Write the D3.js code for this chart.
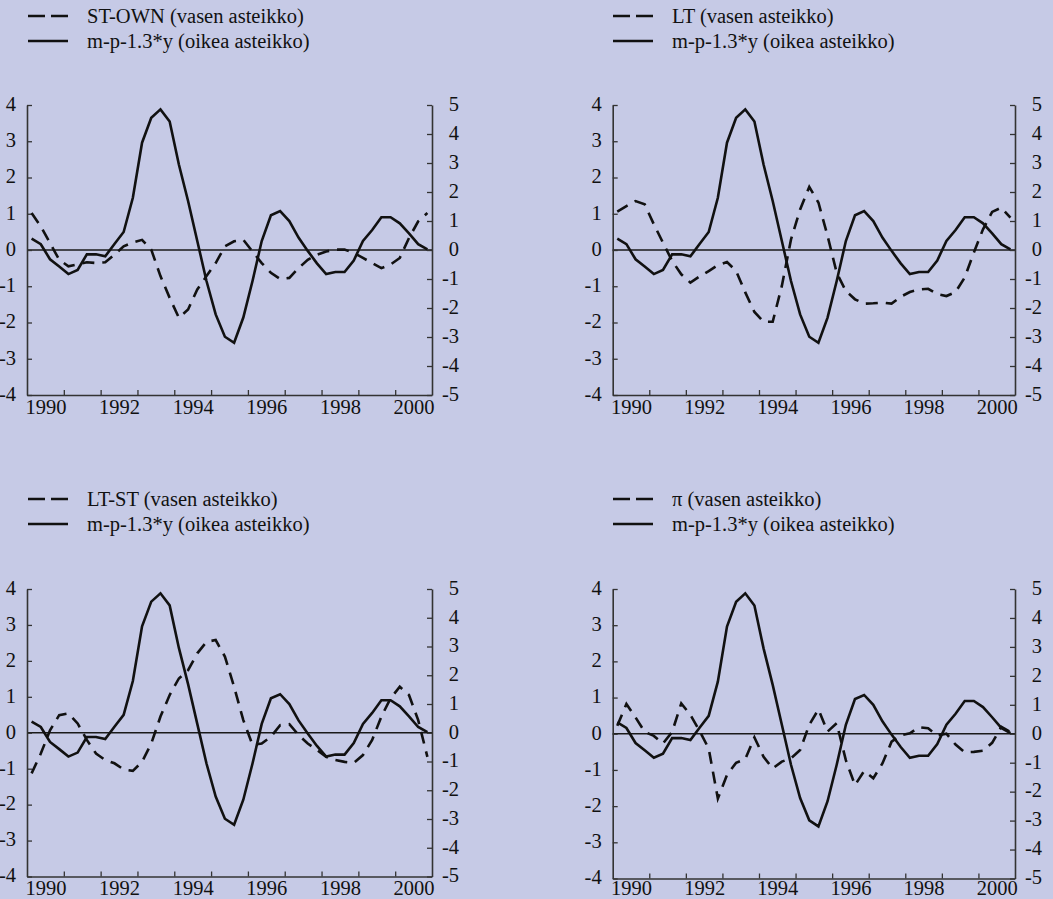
<!DOCTYPE html>
<html>
<head>
<meta charset="utf-8">
<script src="https://cdn.jsdelivr.net/npm/d3@7/dist/d3.min.js"></script>
<style>
  html, body { margin: 0; padding: 0; background: #c6cae6; }
  svg { display: block; }
  text { font-family: "Liberation Serif", "Times New Roman", serif; fill: #111; }
</style>
</head>
<body>
<svg id="chart" width="1053" height="899"></svg>
<script>
// Quarterly observations 1990Q1 – 2000Q4
const years = [1990, 1991, 1992, 1993, 1994, 1995, 1996, 1997, 1998, 1999, 2000];
const quarters = years.flatMap(y => [1, 2, 3, 4].map(q => ({ year: y, q })));

// Tick labels on the time axis (even years) and on the two value axes
const yearLabels = [1990, 1992, 1994, 1996, 1998, 2000];
const leftTicks = [-4, -3, -2, -1, 0, 1, 2, 3, 4];
const rightTicks = [-5, -4, -3, -2, -1, 0, 1, 2, 3, 4, 5];

// m-p-1.3*y (right scale), common to all four panels
const mp13y = [0.39, 0.20, -0.32, -0.57, -0.83, -0.69, -0.15, -0.15, -0.22, 0.21, 0.62, 1.80,
  3.70, 4.56, 4.85, 4.43, 2.95, 1.69, 0.31, -1.07, -2.22, -2.99, -3.20, -2.33,
  -1.07, 0.31, 1.20, 1.34, 1.00, 0.43, -0.03, -0.46, -0.83, -0.76, -0.76, -0.36,
  0.31, 0.69, 1.13, 1.13, 0.92, 0.57, 0.20, 0.02];

// Interest-rate and inflation series (left scale)
const stOwn = [1.02, 0.65, 0.19, -0.27, -0.45, -0.40, -0.34, -0.36, -0.34, -0.13, 0.10, 0.21,
  0.28, 0.01, -0.72, -1.32, -1.87, -1.64, -1.09, -0.72, -0.36, 0.10, 0.24, 0.28,
  -0.04, -0.36, -0.63, -0.80, -0.77, -0.50, -0.27, -0.13, -0.04, 0.01, 0.01, -0.08,
  -0.22, -0.36, -0.50, -0.40, -0.22, 0.33, 0.79, 1.02];

const lt = [1.06, 1.21, 1.35, 1.26, 0.71, 0.20, -0.30, -0.67, -0.90, -0.73, -0.58, -0.42,
  -0.33, -0.58, -1.17, -1.71, -1.98, -1.98, -0.99, 0.29, 1.12, 1.74, 1.31, 0.39,
  -0.63, -1.13, -1.36, -1.48, -1.47, -1.45, -1.48, -1.29, -1.16, -1.09, -1.07, -1.22,
  -1.27, -1.16, -0.76, -0.07, 0.57, 1.05, 1.17, 0.89];

const ltSt = [-1.13, -0.58, 0.07, 0.49, 0.54, 0.26, -0.20, -0.58, -0.76, -0.85, -1.02, -1.06,
  -0.81, -0.30, 0.45, 1.05, 1.51, 1.74, 2.21, 2.53, 2.58, 2.12, 1.28, 0.35,
  -0.34, -0.30, -0.11, 0.21, 0.24, -0.06, -0.30, -0.48, -0.67, -0.76, -0.81, -0.84,
  -0.62, -0.20, 0.45, 0.96, 1.28, 1.05, 0.35, -0.67];

const inflation = [0.22, 0.82, 0.45, 0.05, -0.06, -0.27, 0.05, 0.84, 0.52, 0.08, -0.41, -1.79,
  -1.14, -0.80, -0.70, -0.10, -0.64, -0.96, -0.77, -0.68, -0.45, 0.25, 0.67, 0.06,
  0.29, -0.73, -1.42, -1.03, -1.23, -0.82, -0.22, -0.04, 0.01, 0.18, 0.15, -0.05,
  0.00, -0.30, -0.51, -0.50, -0.47, -0.25, 0.19, 0.05];

const dashedNames = ["ST-OWN", "LT", "LT-ST", "\u03c0"];
const dashedSeries = [stOwn, lt, ltSt, inflation];
const scaleNote = { left: "(vasen asteikko)", right: "(oikea asteikko)" };
const solidName = "m-p-1.3*y";

// Panel frames (plot area edges in px)
const frames = [
  { left: 27,    right: 432,  top: 105, bottom: 395,   labelGap: 18.5, legendX: 28,  legendY: 16 },
  { left: 612.7, right: 1015, top: 105, bottom: 395,   labelGap: 18.5, legendX: 613, legendY: 16 },
  { left: 27,    right: 432,  top: 589, bottom: 876.5, labelGap: 18,   legendX: 28,  legendY: 499 },
  { left: 612.7, right: 1015, top: 589, bottom: 878.5, labelGap: 16,   legendX: 613, legendY: 499 }
];

const FONT = 20.5;
const INK = "#111";
const AXIS = "#333";
const DASH = "12,8";

const svg = d3.select("#chart");
svg.append("rect").attr("width", 1053).attr("height", 899).attr("fill", "#c6cae6");

const tPos = d => d.year + (d.q - 1) / 4 + 0.125;

function styleAxis(g) {
  g.selectAll("path.domain").attr("stroke", AXIS).attr("stroke-width", 1.6);
  g.selectAll(".tick line").attr("stroke", AXIS).attr("stroke-width", 1.3);
  g.selectAll("text").attr("font-size", FONT).attr("font-family", "Liberation Serif, serif").attr("fill", INK);
}

frames.forEach((f, k) => {
  const g = svg.append("g");
  const x = d3.scaleLinear().domain([1990, 2001]).range([f.left, f.right]);
  const yL = d3.scaleLinear().domain([-4, 4]).range([f.bottom, f.top]);
  const yR = d3.scaleLinear().domain([-5, 5]).range([f.bottom, f.top]);

  // zero line
  g.append("line")
    .attr("x1", f.left).attr("x2", f.right)
    .attr("y1", yL(0)).attr("y2", yL(0))
    .attr("stroke", "#1a1a1a").attr("stroke-width", 1.4);

  // left value axis
  const axL = g.append("g").attr("transform", `translate(${f.left},0)`)
    .call(d3.axisLeft(yL).tickValues(leftTicks).tickSize(-5).tickSizeOuter(0)
      .tickPadding(11).tickFormat(d => String(d)));
  styleAxis(axL);
  axL.selectAll("text").attr("dy", "0.26em");

  // right value axis
  const axR = g.append("g").attr("transform", `translate(${f.right},0)`)
    .call(d3.axisRight(yR).tickValues(rightTicks).tickSize(-5).tickSizeOuter(0)
      .tickFormat(d => String(d)));
  styleAxis(axR);
  axR.selectAll("text").attr("text-anchor", "end").attr("x", 27).attr("dy", "0.26em");

  // time axis: ticks at year boundaries
  const axB = g.append("g").attr("transform", `translate(0,${f.bottom})`)
    .call(d3.axisBottom(x).tickValues(years.slice(1)).tickSize(-5).tickSizeOuter(0).tickFormat(""));
  styleAxis(axB);

  // year labels centred in each labelled year
  const axLab = g.append("g").attr("transform", `translate(0,${f.bottom})`)
    .call(d3.axisBottom(x).tickValues(yearLabels.map(y => y + 0.5)).tickSize(0)
      .tickPadding(0).tickFormat(d => String(Math.floor(d))));
  axLab.select("path.domain").remove();
  styleAxis(axLab);
  axLab.selectAll("text").attr("dy", null).attr("y", f.labelGap);

  // series
  const lineL = d3.line().x(d => x(tPos(d.t))).y(d => yL(d.v));
  const lineR = d3.line().x(d => x(tPos(d.t))).y(d => yR(d.v));

  g.append("path")
    .datum(quarters.map((t, i) => ({ t, v: dashedSeries[k][i] })))
    .attr("d", lineL)
    .attr("fill", "none").attr("stroke", INK).attr("stroke-width", 2.6)
    .attr("stroke-dasharray", DASH);

  g.append("path")
    .datum(quarters.map((t, i) => ({ t, v: mp13y[i] })))
    .attr("d", lineR)
    .attr("fill", "none").attr("stroke", INK).attr("stroke-width", 2.6);

  // legend
  const lg = g.append("g");
  lg.append("line")
    .attr("x1", f.legendX).attr("x2", f.legendX + 40)
    .attr("y1", f.legendY).attr("y2", f.legendY)
    .attr("stroke", INK).attr("stroke-width", 2.6).attr("stroke-dasharray", "17,6");
  lg.append("text")
    .attr("x", f.legendX + 59).attr("y", f.legendY + 7.3)
    .attr("font-size", FONT)
    .text(`${dashedNames[k]} ${scaleNote.left}`);
  lg.append("line")
    .attr("x1", f.legendX).attr("x2", f.legendX + 40)
    .attr("y1", f.legendY + 25).attr("y2", f.legendY + 25)
    .attr("stroke", INK).attr("stroke-width", 2.6);
  lg.append("text")
    .attr("x", f.legendX + 59).attr("y", f.legendY + 31.5)
    .attr("font-size", FONT)
    .text(`${solidName} ${scaleNote.right}`);
});
</script>
</body>
</html>
